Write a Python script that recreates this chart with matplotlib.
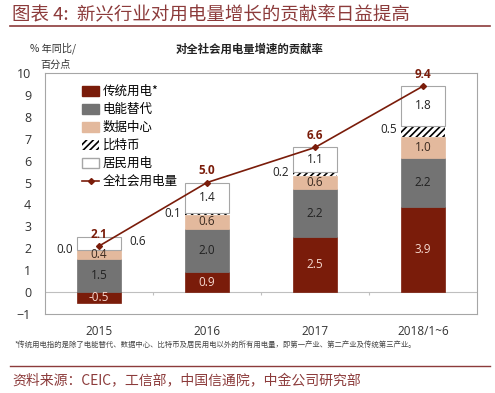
import numpy as np
import matplotlib
matplotlib.use("Agg")
import matplotlib.pyplot as plt
from matplotlib.patches import Patch
from matplotlib.lines import Line2D

plt.rcParams['font.family'] = ['Noto Sans CJK SC', 'DejaVu Sans']
plt.rcParams['hatch.linewidth'] = 1.2

categories = ["2015", "2016", "2017", "2018/1~6"]
traditional = [-0.5, 0.9, 2.5, 3.9]
substitution = [1.5, 2.0, 2.2, 2.2]
datacenter = [0.4, 0.6, 0.6, 1.0]
bitcoin = [0.0, 0.1, 0.2, 0.5]
residential = [0.6, 1.4, 1.1, 1.8]
total = [2.1, 5.0, 6.6, 9.4]
series_names = ["传统用电*", "电能替代", "数据中心", "比特币", "居民用电", "全社会用电量"]

RED = "#7a1c0a"
GRAY = "#737373"
TAN = "#e3b99d"
MAROON = "#8c3b3b"
EDGE = "#a6a6a6"

fig = plt.figure(figsize=(4.95, 3.93), dpi=100)
ax = fig.add_axes([45/495, 1-314/393, 432/495, 241/393])

x = np.arange(len(categories))
w = 0.4

trad = np.array(traditional)
subs = np.array(substitution)
dc = np.array(datacenter)
bc = np.array(bitcoin)
res = np.array(residential)

base = np.where(trad > 0, trad, 0.0)
ax.bar(x, trad, w, color=RED, edgecolor=RED, linewidth=0.5, zorder=2)
ax.bar(x, subs, w, bottom=base, color=GRAY, edgecolor=GRAY, linewidth=0.5, zorder=2)
b2 = base + subs
ax.bar(x, dc, w, bottom=b2, color=TAN, edgecolor=TAN, linewidth=0.5, zorder=2)
b3 = b2 + dc
ax.bar(x, bc, w, bottom=b3, color="white", edgecolor="black", linewidth=0, hatch="/////", zorder=2)
b4 = b3 + bc
ax.bar(x, res, w, bottom=b4, color="white", edgecolor=EDGE, linewidth=0.8, zorder=2)

ax.plot(x, total, color=RED, linewidth=1.2, marker="D", markersize=3, zorder=4)

lbl_fs = 8.5
for i in range(len(x)):
    ax.text(x[i], trad[i]/2, f"{trad[i]:.1f}", ha="center", va="center",
            color="#f6d9d0", fontsize=lbl_fs, family="Open Sans", zorder=5)
    ax.text(x[i], base[i] + subs[i]/2, f"{subs[i]:.1f}", ha="center", va="center",
            color="#222222", fontsize=lbl_fs, family="Open Sans", zorder=5)
    ax.text(x[i], b2[i] + dc[i]/2, f"{dc[i]:.1f}", ha="center", va="center",
            color="#3a2a20", fontsize=lbl_fs, family="Open Sans", zorder=5)
    ax.text(x[i] - w/2 - 0.04, b3[i] + bc[i]/2 + 0.05, f"{bc[i]:.1f}", ha="right", va="center",
            color="#222222", fontsize=lbl_fs, family="Open Sans", zorder=5)
    if i == 0:
        ax.text(x[i] + w/2 + 0.08, b4[i] + res[i]/2 + 0.1, f"{res[i]:.1f}", ha="left", va="center",
                color="#222222", fontsize=lbl_fs, family="Open Sans", zorder=5)
    else:
        ax.text(x[i], b4[i] + res[i]/2, f"{res[i]:.1f}", ha="center", va="center",
                color="#222222", fontsize=lbl_fs, family="Open Sans", zorder=5)
    ax.text(x[i], total[i] + 0.55, f"{total[i]:.1f}", ha="center", va="center",
            color=RED, fontsize=lbl_fs, fontweight="bold", family="Open Sans", zorder=5)

ax.axhline(0, color="#bfbfbf", linewidth=0.8, zorder=1)
ax.vlines(x[:-1] + 0.5, -0.15, 0, color="#bfbfbf", linewidth=0.8, zorder=1)

ax.set_xlim(-0.5, len(x) - 0.5)
ax.set_ylim(-1, 10)
ax.set_yticks(np.arange(-1, 11, 1))
ax.set_xticks(x)
ax.set_xticklabels(categories, fontsize=8.5, family="Open Sans", color="#333333")
ax.tick_params(axis="x", length=0, pad=8)
ax.tick_params(axis="y", length=0, pad=10, labelsize=9, labelcolor="#333333")
for lab in ax.get_yticklabels():
    lab.set_family("Open Sans")
for s in ax.spines.values():
    s.set_color(EDGE)
    s.set_linewidth(0.8)

handles = [
    Patch(facecolor=RED, edgecolor=RED),
    Patch(facecolor=GRAY, edgecolor=GRAY),
    Patch(facecolor=TAN, edgecolor=TAN),
    Patch(facecolor="white", edgecolor="black", hatch="/////", linewidth=0),
    Patch(facecolor="white", edgecolor=EDGE),
    Line2D([0], [0], color=RED, marker="D", markersize=3, linewidth=1.2),
]
ax.legend(handles, series_names, loc="upper left", bbox_to_anchor=(0.075, 0.97), frameon=False,
          fontsize=9, handlelength=1.3, handleheight=0.8, handletextpad=0.3, labelspacing=0.4,
          borderaxespad=0)

# titles & annotations
fig.text(12/495, 1-15/393, "图表 4:  新兴行业对用电量增长的贡献率日益提高", ha="left", va="center",
         fontsize=13.3, color=MAROON)
fig.add_artist(Line2D([10/495, 490/495], [1-26/393, 1-26/393], color=MAROON, linewidth=1.2))
fig.text(250/495, 1-49/393, "对全社会用电量增速的贡献率", ha="center", va="center",
         fontsize=8.2, fontweight="bold", color="#222222")
fig.text(30/495, 1-48/393, "% 年同比/", ha="left", va="center", fontsize=7.3, color="#333333")
fig.text(40/495, 1-65/393, "百分点", ha="left", va="center", fontsize=7.3, color="#333333")
fig.text(15/495, 1-345/393,
         "*传统用电指的是除了电能替代、数据中心、比特币及居民用电以外的所有用电量，即第一产业、第二产业及传统第三产业。",
         ha="left", va="center", fontsize=5.3, color="#444444")
fig.add_artist(Line2D([10/495, 490/495], [1-366/393, 1-366/393], color=MAROON, linewidth=1.0))
fig.text(12/495, 1-381/393, "资料来源：CEIC，工信部，中国信通院，中金公司研究部", ha="left", va="center",
         fontsize=10, color=MAROON)

fig.savefig("out.png", dpi=100)
